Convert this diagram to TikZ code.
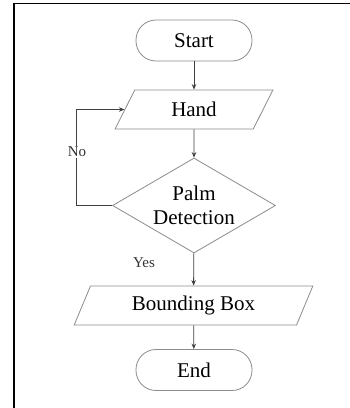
\documentclass[tikz,border=0pt]{standalone}
\usepackage{fontspec}
\setmainfont{Liberation Serif}
\usetikzlibrary{shapes.geometric,arrows.meta,calc}
\begin{document}
\begin{tikzpicture}[x=1pt,y=-1pt,
  shapeline/.style={draw=black!45,line width=0.8pt},
  term/.style={shapeline,rectangle,rounded corners=20pt,minimum width=116pt,minimum height=41pt,inner sep=0pt,font=\fontsize{21}{25}\selectfont},
  io/.style={shapeline,trapezium,trapezium left angle=63,trapezium right angle=117,trapezium stretches=true,minimum height=39pt,inner sep=0pt,font=\fontsize{21}{25}\selectfont},
  decision/.style={shapeline,diamond,aspect=1.72,inner sep=0pt,minimum width=163pt,minimum height=95pt,align=center,font=\fontsize{21}{25}\selectfont},
  conn/.style={draw=black!75,line width=0.8pt,-{Stealth[length=5.5pt,width=4.5pt]}},
  lbl/.style={font=\fontsize{15}{17}\selectfont,text=black!80}
]
\useasboundingbox (0,0) rectangle (350,408);
\fill[white] (0,0) rectangle (350,408);
\draw[line width=1.5pt] (14,408) -- (14,3.5) -- (350,3.5);

\node[term] (start) at (194,40.5) {Start};
\node[io,minimum width=158pt] (hand) at (194,109.5) {Hand};
\node[decision] (pd) at (194,205.5) {Palm\\[-1pt]Detection};
\node[io,minimum width=239pt] (bb) at (193.5,305.5) {Bounding Box};
\node[term] (end) at (194,370) {End};

\draw[conn] (start) -- (hand);
\draw[conn] (hand) -- (pd);
\draw[conn] (pd) -- (bb);
\draw[conn] (bb) -- (end);
\coordinate (lc) at (76,205.5);
\draw[conn] (pd.west) -- (lc) |- (hand.left side);
\node[lbl,fill=white,inner sep=1pt] (no) at (77,152) {No};
\node[lbl] (yes) at (144,263) {Yes};
\end{tikzpicture}
\end{document}
